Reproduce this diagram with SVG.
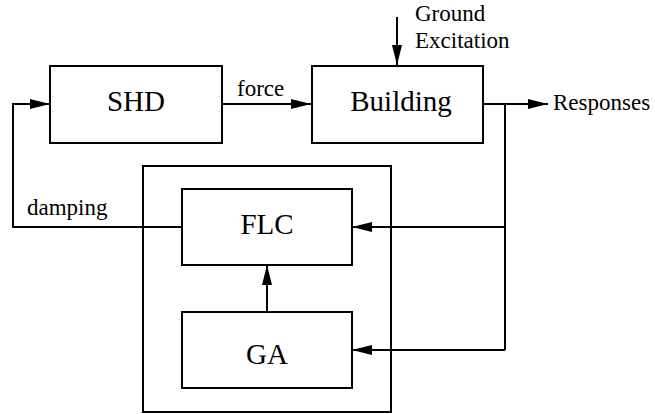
<svg xmlns="http://www.w3.org/2000/svg" width="655" height="414" viewBox="0 0 655 414">
<style>
.box{fill:#fff;stroke:#000;stroke-width:2}
.ln{fill:none;stroke:#000;stroke-width:2}
.big{font-size:29px;fill:#000;text-anchor:middle}
.lbl{font-size:23px;fill:#000}
</style>
<defs>
<marker id="ah" markerUnits="userSpaceOnUse" markerWidth="21" markerHeight="11" refX="20" refY="5" orient="auto">
<path d="M0,0 L20,5 L0,10 z" fill="#000"/>
</marker>
</defs>
<rect width="655" height="414" fill="#fff"/>
<g id="outer"><rect class="box" x="143" y="166" width="248" height="246"/></g>
<g id="connectors" font-family="Liberation Serif, Times New Roman, serif">
<path class="ln" d="M222,104 H311" marker-end="url(#ah)"/>
<path class="ln" d="M397,17 V65" marker-end="url(#ah)"/>
<path class="ln" d="M483,104 H548" marker-end="url(#ah)"/>
<path class="ln" d="M505,104 V350"/>
<path class="ln" d="M505,227 H352" marker-end="url(#ah)"/>
<path class="ln" d="M505,350 H352" marker-end="url(#ah)"/>
<path class="ln" d="M267,312 V265" marker-end="url(#ah)"/>
<path class="ln" d="M182,227 H13 V104 H50" marker-end="url(#ah)"/>
<text class="lbl" x="237" y="96">force</text>
<text class="lbl" x="415" y="21">Ground</text>
<text class="lbl" x="415" y="48">Excitation</text>
<text class="lbl" x="553" y="110">Responses</text>
<text class="lbl" x="27" y="215">damping</text>
</g>
<g id="shd" font-family="Liberation Serif, Times New Roman, serif"><rect class="box" x="50" y="66" width="172" height="77"/><text class="big" x="136" y="111">SHD</text></g>
<g id="building" font-family="Liberation Serif, Times New Roman, serif"><rect class="box" x="312" y="66" width="171" height="77"/><text class="big" x="401" y="111">Building</text></g>
<g id="flc" font-family="Liberation Serif, Times New Roman, serif"><rect class="box" x="182" y="189" width="170" height="76"/><text class="big" x="267" y="234">FLC</text></g>
<g id="ga" font-family="Liberation Serif, Times New Roman, serif"><rect class="box" x="182" y="312" width="170" height="76"/><text class="big" x="267" y="364">GA</text></g>
</svg>
